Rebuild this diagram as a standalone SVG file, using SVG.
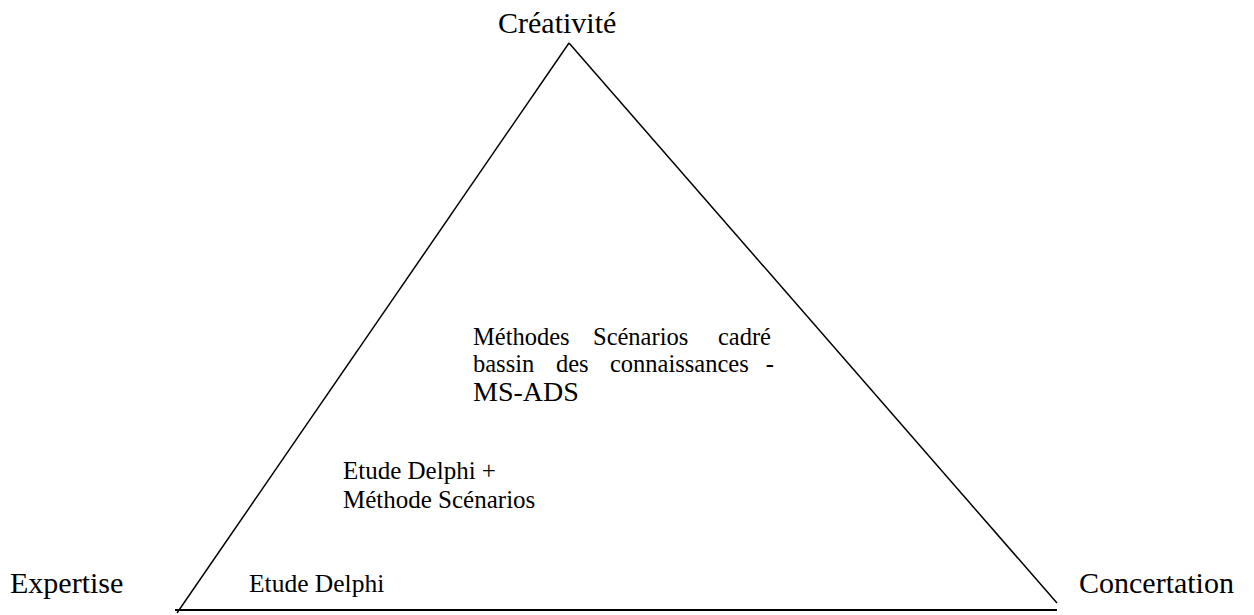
<svg xmlns="http://www.w3.org/2000/svg" width="1254" height="615" viewBox="0 0 1254 615">
  <style>
    .lbl { font-family: "Liberation Serif", "Times New Roman", "DejaVu Serif", serif; fill: #000; }
    .corner { font-size: 30px; }
    .inner { font-size: 24.5px; }
    .edge { stroke: #000; stroke-width: 1.5; fill: none; }
    .base { stroke: #000; stroke-width: 2.2; fill: none; }
  </style>
  <rect width="1254" height="615" fill="#fff"/>

  <!-- triangle sides -->
  <g id="connectors">
    <line class="edge" x1="569" y1="43" x2="177" y2="613"/>
    <line class="edge" x1="569" y1="43" x2="1057" y2="603"/>
    <line class="base" x1="175" y1="610" x2="1057" y2="610"/>
  </g>

  <g font-family="Liberation Serif, Times New Roman, serif">
    <!-- corner labels -->
    <g id="creativite">
      <text class="lbl corner" x="498" y="33">Créativité</text>
    </g>
    <g id="expertise">
      <text class="lbl corner" x="10" y="593">Expertise</text>
    </g>
    <g id="concertation">
      <text class="lbl corner" x="1079" y="593">Concertation</text>
    </g>

    <!-- methods placed inside the triangle (justified block) -->
    <g id="ms-ads">
      <text class="lbl inner" y="345"><tspan x="473">Méthodes</tspan><tspan x="593">Scénarios</tspan><tspan x="771" text-anchor="end">cadré</tspan></text>
      <text class="lbl inner" y="372"><tspan x="473">bassin</tspan><tspan x="556">des</tspan><tspan x="610">connaissances</tspan><tspan x="774" text-anchor="end">-</tspan></text>
      <text class="lbl" x="473" y="401" font-size="28">MS-ADS</text>
    </g>
    <g id="delphi-scenarios">
      <text class="lbl" x="343" y="479" font-size="25">Etude Delphi +</text>
      <text class="lbl" x="343" y="508" font-size="25">Méthode Scénarios</text>
    </g>
    <g id="delphi">
      <text class="lbl" x="249" y="592" font-size="25.5">Etude Delphi</text>
    </g>
  </g>
</svg>
